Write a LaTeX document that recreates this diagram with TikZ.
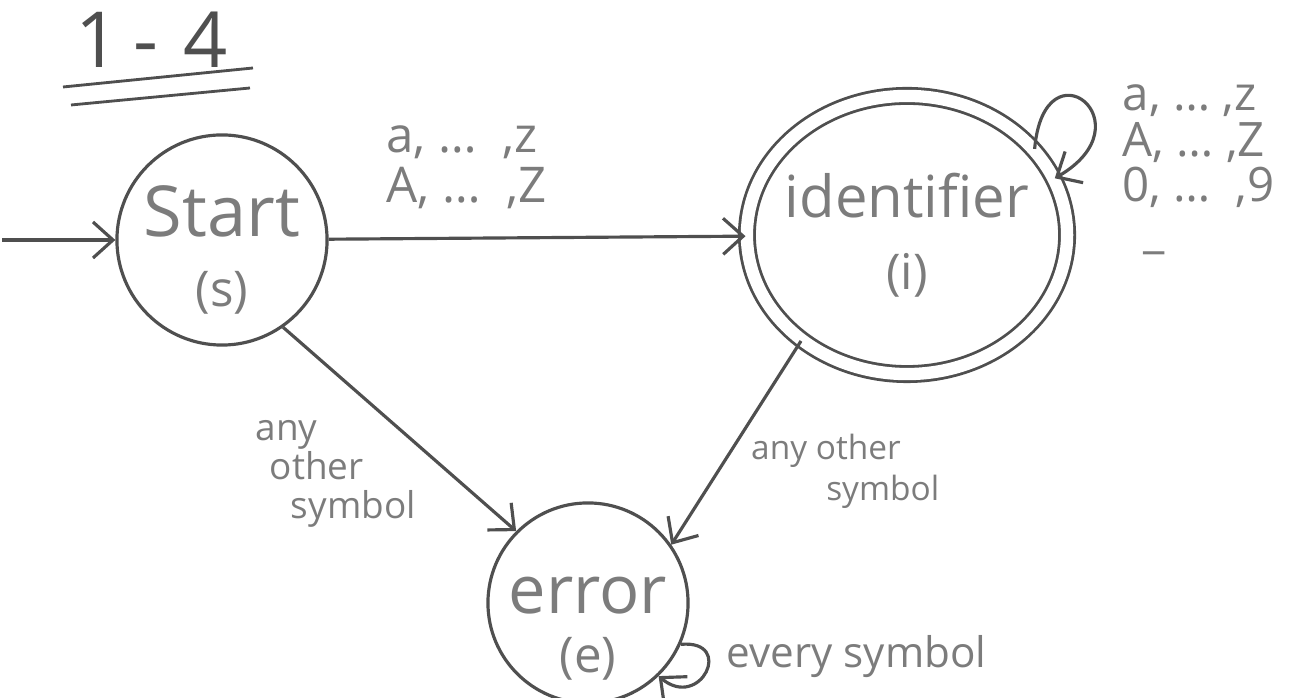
\documentclass[tikz,border=0pt]{standalone}
\usepackage{fontspec}
\setmainfont{Open Sans}
\usetikzlibrary{arrows.meta,shapes.geometric}

\definecolor{pencil}{HTML}{4F4F4F}
\definecolor{graphite}{HTML}{7C7C7C}

\tikzstyle{state}=[
    circle,
    draw=pencil,
    line width=0.9pt,
    align=center,
    text=graphite,
    inner sep=-6pt,
  ]
\tikzstyle{accept}=[
    ellipse,
    draw=pencil,
    line width=0.8pt,
    double,
    double distance=3.5pt,
    align=center,
    text=graphite,
    inner xsep=-8pt,
    inner ysep=0pt,
  ]
\tikzstyle{trans}=[
    -{Straight Barb[length=2mm,width=3.6mm]},
    draw=pencil,
    line width=0.9pt,
  ]
\tikzstyle{lbl}=[
    text=graphite,
    align=left,
    inner sep=0pt,
  ]

\begin{document}
\begin{tikzpicture}[x=0.01cm, y=-0.01cm]
      \useasboundingbox (0,0) rectangle (1300,698);

      % heading
      \node[text=pencil, font=\fontsize{22}{26}\selectfont] (title) at (152,40) {1\,-\,\,4};
      \draw[pencil, line width=0.8pt] (63,87) -- (253,68);
      \draw[pencil, line width=0.8pt] (71,105) -- (250,88);

      % states
      \node[state, minimum size=2.1cm, font=\fontsize{20}{20}\selectfont] (start) at (222,240)
        {\rule{0pt}{20pt}Start\\[0pt]{\fontsize{14}{14}\selectfont (s)}};
      \node[accept, minimum width=3.2cm, minimum height=2.78cm,
          font=\fontsize{16.5}{16.5}\selectfont] (ident) at (907,235)
        {identifier\\[4pt]{\fontsize{14}{14}\selectfont (i)}};
      \node[state, minimum size=2cm, font=\fontsize{19}{19}\selectfont] (error) at (588,603)
        {\rule{0pt}{25pt}error\\[-2pt]{\fontsize{14}{14}\selectfont (e)}};

      \coordinate (init) at (2,240);

      % transitions
      \draw[trans] (init) -- (start);
      \draw[trans] (start) -- node[lbl, pos=0.33, above=8pt,
          font=\fontsize{14}{14}\selectfont]
        {a,\ \dots\ \ ,z\\A,\ \dots\ \ ,Z} (ident);
      \draw[trans] (ident.34) .. controls +(85:1.1cm) and +(30:1.1cm) .. (ident.21);
      \node[lbl, anchor=north west, font=\fontsize{13.5}{13}\selectfont] (idloop) at (1122,84)
        {a,\ \dots\ ,z\\A,\ \dots\ ,Z\\0,\ \dots\ \ ,9\\\hspace*{6pt}\_};
      \draw[trans] (start.-55) -- node[lbl, pos=0.5, anchor=north east, xshift=5pt, yshift=0.1cm,
          font=\fontsize{10.5}{11}\selectfont]
        {any\\\hspace*{4pt}other\\\hspace*{10pt}symbol} (error.135);
      \draw[trans] (ident.225) -- node[lbl, pos=0.45, anchor=north west, xshift=2pt,
          font=\fontsize{9.5}{11.5}\selectfont]
        {any other\\\hspace*{0.75cm}symbol} (error.35);
      \draw[trans] (error.-24) to[out=5, in=-40, looseness=3.6] (error.-46);
      \node[lbl, anchor=west, font=\fontsize{12}{14}\selectfont] (errloop) at (726,657)
        {every symbol};
    \end{tikzpicture}
\end{document}
